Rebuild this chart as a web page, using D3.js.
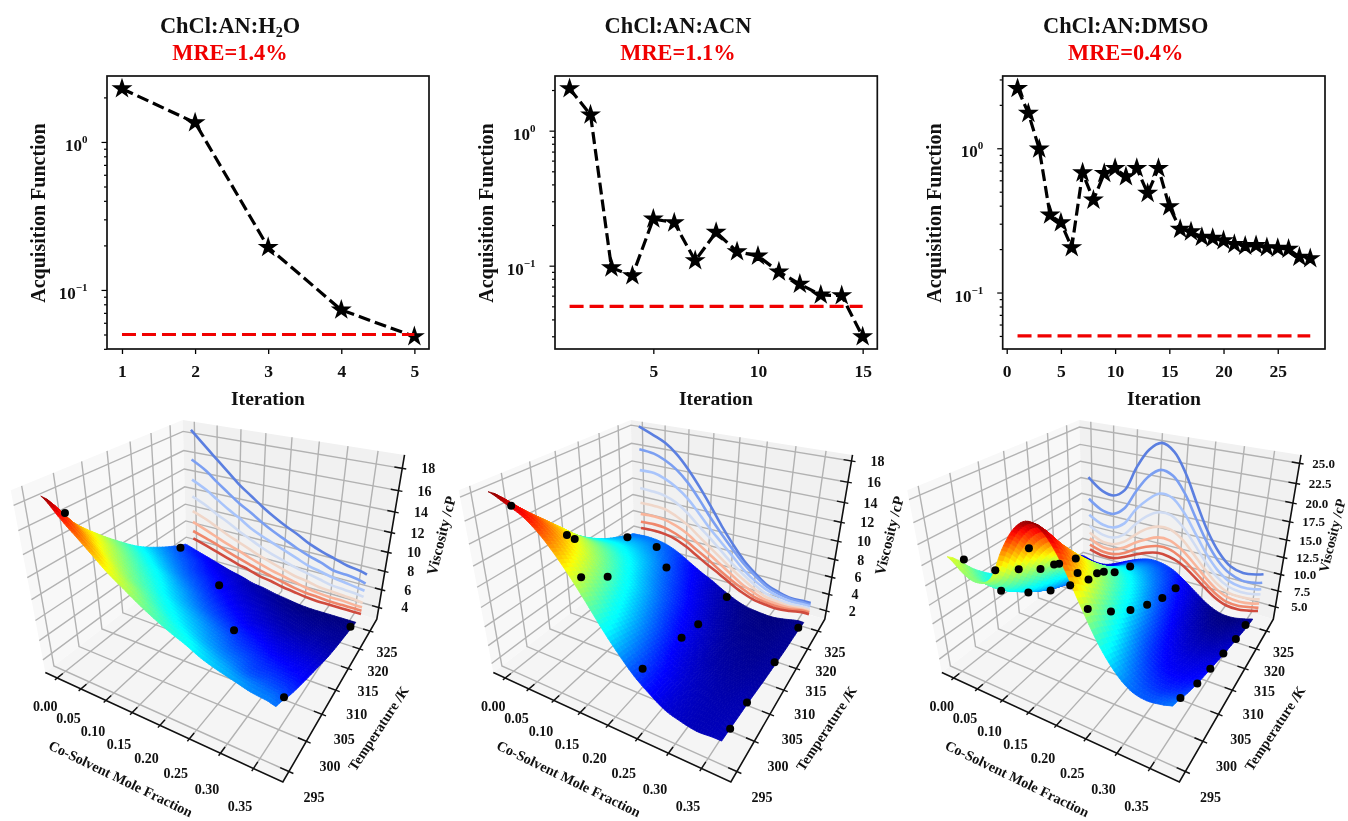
<!DOCTYPE html>
<html>
<head>
<meta charset="utf-8">
<style>
body { margin: 0; background: #fff; }
svg { display: block; filter: blur(0.45px); }
text { font-family: 'Liberation Serif', serif; font-weight: bold; fill: #111; }
</style>
</head>
<body>
<script src="https://cdnjs.cloudflare.com/ajax/libs/d3/7.8.5/d3.min.js"></script>
<script>
//acquisition function per iteration
var acq1 = [2.29, 1.35, 0.194, 0.0733, 0.0484];
var acq2 = [2.05, 1.31, 0.0966, 0.0843, 0.222, 0.208, 0.109, 0.177, 0.127, 0.118, 0.090, 0.073, 0.0607, 0.060, 0.0298];
var acq3 = [2.6, 1.75, 0.99, 0.345, 0.305, 0.205, 0.677, 0.438, 0.67, 0.726, 0.636, 0.726, 0.488, 0.726, 0.394, 0.275, 0.264, 0.242, 0.238, 0.229, 0.216, 0.21, 0.212, 0.205, 0.203, 0.2, 0.176, 0.172];
var threshold = 0.05;
var xticks1 = [1, 2, 3, 4, 5];
var xticks2 = [5, 10, 15];
var xticks3 = [0, 5, 10, 15, 20, 25];
var titles = ['ChCl:AN:H', 'ChCl:AN:ACN', 'ChCl:AN:DMSO'];
var mre = ['MRE=1.4%', 'MRE=1.1%', 'MRE=0.4%'];

//3d axes
var fractionTicks = [0, 0.05, 0.10, 0.15, 0.20, 0.25, 0.30, 0.35];
var tempTicks = [295, 300, 305, 310, 315, 320, 325];
var viscTicks1 = [4, 6, 8, 10, 12, 14, 16, 18];
var viscTicks2 = [2, 4, 6, 8, 10, 12, 14, 16, 18];
var viscTicks3 = [5, 7.5, 10, 12.5, 15, 17.5, 20, 22.5, 25];

//mole fraction grid of the viscosity rows, and the temperature of each row
var fractions = [-0.008, 0.025, 0.05, 0.075, 0.1, 0.125, 0.15, 0.175, 0.2, 0.225, 0.25, 0.275, 0.3, 0.325, 0.35, 0.362];
var temps = [296.2, 300.46, 304.71, 308.97, 313.23, 317.49, 321.74, 326];

var visc1 = [
    [18.3, 16.8, 15.7, 14.6, 13.5, 12.6, 11.7, 10.9, 10.2, 9.6, 8.9, 8.4, 8.0, 7.6, 7.4, 7.2],
    [15.2, 14.3, 13.3, 12.4, 11.5, 10.8, 10.0, 9.3, 8.7, 8.1, 7.6, 7.2, 6.7, 6.6, 6.4, 6.2],
    [13.0, 12.2, 11.4, 10.6, 9.9, 9.1, 8.5, 8.0, 7.5, 7.0, 6.5, 6.2, 5.9, 5.7, 5.5, 5.4],
    [11.1, 10.4, 9.7, 9.1, 8.4, 7.8, 7.2, 6.7, 6.3, 5.9, 5.6, 5.3, 5.0, 4.9, 4.8, 4.7],
    [9.4, 8.8, 8.2, 7.6, 7.1, 6.6, 6.1, 5.7, 5.3, 4.9, 4.7, 4.4, 4.3, 4.2, 4.1, 4.0],
    [8.1, 7.5, 7.0, 6.5, 6.1, 5.6, 5.2, 4.8, 4.5, 4.2, 3.9, 3.7, 3.6, 3.6, 3.5, 3.5],
    [7.0, 6.5, 6.1, 5.6, 5.2, 4.8, 4.4, 4.1, 3.8, 3.5, 3.3, 3.2, 3.1, 3.1, 3.1, 3.1],
    [6.1, 5.6, 5.2, 4.8, 4.4, 4.1, 3.7, 3.5, 3.2, 3.0, 2.8, 2.7, 2.7, 2.7, 2.7, 2.7]
];
var visc2 = [
    [18.0, 17.3, 16.7, 15.7, 14.3, 12.6, 10.7, 8.7, 6.9, 5.3, 4.1, 3.1, 2.6, 2.3, 2.4, 2.4],
    [15.5, 15.3, 14.8, 14.0, 12.8, 11.2, 9.4, 7.8, 6.3, 4.9, 3.8, 2.9, 2.4, 2.2, 2.2, 2.2],
    [13.1, 13.1, 12.7, 12.0, 11.0, 9.6, 8.1, 6.8, 5.5, 4.2, 3.2, 2.5, 2.1, 1.9, 2.0, 2.0],
    [11.0, 10.9, 10.7, 10.2, 9.3, 8.1, 7.0, 5.8, 4.6, 3.6, 2.7, 2.0, 1.7, 1.6, 1.7, 1.7],
    [9.2, 9.2, 9.1, 8.6, 7.9, 6.9, 5.9, 4.9, 3.9, 3.0, 2.2, 1.6, 1.4, 1.3, 1.5, 1.5],
    [7.8, 7.9, 7.8, 7.4, 6.8, 5.9, 5.0, 4.1, 3.2, 2.3, 1.7, 1.2, 1.1, 1.1, 1.3, 1.3],
    [6.8, 6.9, 6.8, 6.4, 5.8, 5.0, 4.2, 3.3, 2.5, 1.8, 1.2, 0.9, 0.8, 0.9, 1.2, 1.2],
    [6.0, 6.1, 6.0, 5.7, 5.1, 4.3, 3.5, 2.8, 2.0, 1.3, 0.8, 0.6, 0.5, 0.7, 1.0, 1.0]
];
var visc3 = [
    [17.8, 16.1, 15.8, 17.0, 20.7, 23.5, 24.7, 23.8, 21.1, 17.3, 13.7, 11.0, 9.3, 8.8, 9.1, 9.4],
    [14.4, 13.0, 12.9, 14.2, 17.2, 19.7, 21.0, 20.5, 18.4, 15.2, 12.1, 9.7, 8.2, 7.6, 7.8, 8.1],
    [11.8, 10.7, 10.7, 11.8, 14.4, 16.3, 17.6, 17.4, 15.7, 13.1, 10.4, 8.3, 7.0, 6.6, 6.8, 7.1],
    [10.0, 9.0, 9.0, 10.0, 12.1, 13.8, 14.8, 14.8, 13.5, 11.4, 9.1, 7.2, 6.1, 5.8, 6.0, 6.3],
    [8.8, 7.8, 7.9, 8.8, 10.4, 11.8, 12.6, 12.6, 11.6, 9.8, 7.9, 6.2, 5.2, 5.0, 5.2, 5.5],
    [7.8, 6.9, 7.0, 7.8, 9.1, 10.1, 10.9, 10.9, 10.0, 8.5, 6.8, 5.3, 4.4, 4.2, 4.5, 4.8],
    [6.7, 6.1, 6.2, 6.9, 8.0, 8.9, 9.5, 9.5, 8.7, 7.4, 5.9, 4.5, 3.6, 3.5, 3.9, 4.1],
    [5.9, 5.4, 5.5, 6.2, 7.1, 7.9, 8.4, 8.3, 7.7, 6.5, 5.1, 3.8, 3.0, 2.9, 3.3, 3.6]
];

//measured points: mole fraction, temperature, viscosity
var points1 = [[0, 298.9, 16.4], [0.005, 322.9, 6.7], [0.122, 318.9, 5.3], [0.22, 308.7, 5.8], [0.357, 299.4, 6.3], [0.36, 323.8, 3.0]];
var points2 = [[0.01, 298, 16.6], [0.038, 304.7, 12.5], [0.048, 305.2, 12.1], [0.122, 298.5, 11.7], [0.12, 303.9, 9.9], [0, 323.3, 6.4], [0.068, 323.3, 6.2], [0.117, 319.4, 5.7], [0.212, 325.1, 1.7], [0.22, 313.6, 3.0], [0.222, 308.3, 3.7], [0.225, 298.1, 5.1], [0.36, 323.8, 1.2], [0.36, 313.6, 1.6], [0.36, 303.9, 2.0], [0.362, 298.5, 2.3]];
var points3 = [[0, 298.2, 16.8], [0.088, 295.9, 18.3], [0.098, 299, 17.3], [0.125, 298.5, 20.5], [0.108, 302.1, 16.2], [0.122, 303.4, 16.5], [0.127, 303.9, 16.5], [0.165, 303, 18.3], [0.033, 319.4, 6.5], [0.2, 301.2, 17.3], [0.095, 317.1, 8.8], [0.18, 307.4, 15.1], [0.175, 310.9, 13.4], [0.152, 318.9, 10.3], [0.065, 298.5, 14.1], [0.04, 306.1, 9.7], [0.055, 309.6, 8.7], [0.21, 296.3, 19.1], [0.225, 297.7, 16.1], [0.227, 302.5, 13.4], [0.23, 307, 11.4], [0.23, 311.8, 9.7], [0.23, 316.7, 8.3], [0.227, 322, 7.2], [0.357, 299.4, 8.0], [0.36, 303.9, 7.0], [0.36, 308.3, 6.2], [0.36, 313.2, 5.4], [0.36, 318.5, 4.5], [0.357, 323.8, 3.7]];

var lineColors = ['#5b7fe0', '#7b9ff2', '#a8c4fb', '#d0dcf3', '#f0d6c8', '#f9b49a', '#f0876b', '#d04b3e'];
var jetStops = [0, 0.11, 0.125, 0.35, 0.375, 0.64, 0.66, 0.89, 0.91, 1];
var jetColors = ['#00007f', '#0000f1', '#0000ff', '#00ffff', '#0cfff4', '#f9ff07', '#ffee00', '#ff0b00', '#f10000', '#7f0000'];

//panel layouts
var tops = [
    { y: acq1, xticks: xticks1, left: 107, right: 429, xdom: [0.795, 5.2], ydom: [0.0399, 2.79], tx: 230, lx: 268, ylx: 45 },
    { y: acq2, xticks: xticks2, left: 555, right: 877.3, xdom: [0.303, 15.7], ydom: [0.02415, 2.54], tx: 678, lx: 716, ylx: 493 },
    { y: acq3, xticks: xticks3, left: 1002.7, right: 1325, xdom: [-0.369, 29.36], ydom: [0.0406, 3.17], tx: 1125.7, lx: 1164, ylx: 941 }
];
var bottoms = [
    { dx: 0, visc: visc1, points: points1, ticks: viscTicks1, zdom: [2.64, 19.16], zoff: 26, zfont: 14, labelx: 441, labelsize: 15 },
    { dx: 448, visc: visc2, points: points2, ticks: viscTicks2, zdom: [0.96, 18.55], zoff: 26, zfont: 14, labelx: 441, labelsize: 15 },
    { dx: 896.5, visc: visc3, points: points3, ticks: viscTicks3, zdom: [3, 26], zoff: 24, zfont: 13, labelx: 435.5, labelsize: 14 }
];

var svg = d3.select('body').append('svg')
    .attr('width', 1348)
    .attr('height', 821);

//-------- iteration charts --------
tops.forEach(function (p, i) {
    var g = svg.append('g');
    var x = d3.scaleLinear().domain(p.xdom).range([p.left, p.right]);
    var y = d3.scaleLog().domain(p.ydom).range([349, 76]);
    var iters = d3.range(1, p.y.length + 1);

    //titles
    var title = g.append('text')
        .attr('x', p.tx).attr('y', 33)
        .attr('text-anchor', 'middle')
        .attr('font-size', 22.4)
        .text(titles[i]);
    if (i === 0) {
        title.append('tspan').attr('font-size', 14).attr('dy', 4).text('2');
        title.append('tspan').attr('dy', -4).text('O');
    }
    g.append('text')
        .attr('x', p.tx).attr('y', 60)
        .attr('text-anchor', 'middle')
        .attr('font-size', 22.4)
        .style('fill', '#f00000')
        .text(mre[i]);

    //axes
    var xaxis = d3.axisBottom(x).tickValues(p.xticks).tickSize(5).tickPadding(11).tickSizeOuter(0).tickFormat(d3.format('d'));
    var yaxis = d3.axisLeft(y).tickValues(y.ticks()).tickSize(5.5).tickPadding(14).tickSizeOuter(0).tickFormat('');
    var gx = g.append('g').attr('transform', 'translate(0,349)').call(xaxis);
    var gy = g.append('g').attr('transform', 'translate(' + p.left + ',0)').call(yaxis);
    gx.selectAll('text').attr('font-size', 17.5);
    gx.attr('font-family', null);
    gy.attr('font-family', null);
    gx.selectAll('line').attr('stroke-width', 1.3);
    gy.selectAll('line').attr('stroke-width', 1.2);
    gy.selectAll('.tick').each(function (d) {
        var e = Math.log10(d);
        var major = Math.abs(e - Math.round(e)) < 1e-6;
        var t = d3.select(this);
        if (!major) { t.select('line').attr('x2', -3); return; }
        var lab = t.select('text').attr('font-size', 17).attr('dy', '0.5em');
        lab.text('10');
        lab.append('tspan').attr('font-size', 11).attr('dy', -8).text(Math.round(e) === 0 ? '0' : '\u22121');
    });
    gx.select('.domain').remove();
    gy.select('.domain').remove();

    g.append('rect')
        .attr('x', p.left).attr('y', 76)
        .attr('width', p.right - p.left).attr('height', 273)
        .attr('fill', 'none').attr('stroke', '#111').attr('stroke-width', 1.7);

    //axis titles
    g.append('text')
        .attr('x', p.lx).attr('y', 405)
        .attr('text-anchor', 'middle').attr('font-size', 19.6)
        .text('Iteration');
    g.append('text')
        .attr('transform', 'translate(' + p.ylx + ',213) rotate(-90)')
        .attr('text-anchor', 'middle').attr('font-size', 20)
        .text('Acquisition Function');

    //series
    var line = d3.line().x(function (d) { return x(d[0]); }).y(function (d) { return y(d[1]); });
    g.append('path')
        .attr('d', line(iters.map(function (n, k) { return [n, p.y[k]]; })))
        .attr('fill', 'none').attr('stroke', '#000').attr('stroke-width', 3.2)
        .attr('stroke-dasharray', '12,5');
    g.selectAll('.star')
        .data(iters)
        .enter().append('path')
        .attr('class', 'star')
        .attr('d', d3.symbol(d3.symbolStar, 68))
        .attr('transform', function (n, k) { return 'translate(' + x(n) + ',' + y(p.y[k]) + ')'; })
        .attr('fill', '#000').attr('stroke', '#000').attr('stroke-width', 2).attr('stroke-linejoin', 'miter');
    g.append('path')
        .attr('d', line([[1, threshold], [p.y.length, threshold]]))
        .attr('fill', 'none').attr('stroke', '#f00000').attr('stroke-width', 3.2)
        .attr('stroke-dasharray', '14,6');
});

//-------- surface charts --------
//box corners on the page, used to fit one camera for all three boxes
var boxCorners = [[0, 0, 0, 45, 671.7], [1, 0, 0, 283.3, 782.3], [1, 1, 0, 376.7, 619], [0, 1, 0, 187, 564], [0, 0, 1, 10.7, 491], [0, 1, 1, 183, 419.5], [1, 1, 1, 404.3, 455]];

function solve(A, b) {
    var n = b.length, M = A.map(function (r, i) { return r.concat(b[i]); });
    for (var i = 0; i < n; i++) {
        var m = i;
        for (var k = i + 1; k < n; k++) if (Math.abs(M[k][i]) > Math.abs(M[m][i])) m = k;
        var t = M[i]; M[i] = M[m]; M[m] = t;
        for (k = i + 1; k < n; k++) {
            var f = M[k][i] / M[i][i];
            for (var j = i; j <= n; j++) M[k][j] -= f * M[i][j];
        }
    }
    var x = [];
    for (i = n - 1; i >= 0; i--) {
        var s = M[i][n];
        for (j = i + 1; j < n; j++) s -= M[i][j] * x[j];
        x[i] = s / M[i][i];
    }
    return x;
}

function fitCamera(c) {
    var R = [], B = [];
    c.forEach(function (q) {
        var u = q[0], v = q[1], w = q[2], X = q[3], Y = q[4];
        R.push([u, v, w, 1, 0, 0, 0, 0, -X * u, -X * v, -X * w]); B.push(X);
        R.push([0, 0, 0, 0, u, v, w, 1, -Y * u, -Y * v, -Y * w]); B.push(Y);
    });
    var A = [], b = [];
    for (var i = 0; i < 11; i++) {
        A.push([]);
        b.push(d3.sum(R, function (r, k) { return r[i] * B[k]; }));
        for (var j = 0; j < 11; j++) A[i].push(d3.sum(R, function (r) { return r[i] * r[j]; }));
    }
    return solve(A, b).concat(1);
}
var P = fitCamera(boxCorners);

function camera(u, v, w) {
    var d = P[8] * u + P[9] * v + P[10] * w + P[11];
    return [(P[0] * u + P[1] * v + P[2] * w + P[3]) / d, (P[4] * u + P[5] * v + P[6] * w + P[7]) / d];
}

//spline through the rows so the surface comes out smooth
function spline(a, t) {
    var n = a.length, i = Math.min(n - 2, Math.max(0, Math.floor(t))), f = t - i;
    var p0 = a[Math.max(0, i - 1)], p1 = a[i], p2 = a[i + 1], p3 = a[Math.min(n - 1, i + 2)];
    return 0.5 * (2 * p1 + (p2 - p0) * f + (2 * p0 - 5 * p1 + 4 * p2 - p3) * f * f + (3 * p1 - p0 - 3 * p2 + p3) * f * f * f);
}

var xs3 = d3.scaleLinear().domain([-0.026, 0.392]).range([0, 1]);
var ts3 = d3.scaleLinear().domain([293.4, 328.6]).range([0, 1]);
var path3 = d3.line();
var pathSmooth = d3.line().curve(d3.curveCatmullRom);
var xlabShift = d3.scaleLinear().domain([0, 0.35]).range([12, 5]);
var tlabShiftX = d3.scaleLinear().domain([295, 325]).range([25, 17]);
var tlabShiftY = d3.scaleLinear().domain([295, 325]).range([26, 21]);

bottoms.forEach(function (p) {
    var g = svg.append('g').attr('transform', 'translate(' + p.dx + ',0)');
    var zs = d3.scaleLinear().domain(p.zdom).range([0, 1]);
    function project(x, t, z) { return camera(xs3(x), ts3(t), zs(z)); }
    var all = d3.merge(p.visc);
    var jetNorm = d3.scalePow().exponent(1.35).domain([d3.min(all), d3.max(all)]).range([0, 1]);
    var jetMap = d3.scaleLinear().domain(jetStops).range(jetColors);
    function jet(z) { return jetMap(jetNorm(z)); }

    //panes
    var panes = [
        { c: [[0, 0, 0], [0, 1, 0], [0, 1, 1], [0, 0, 1]], fill: '#f8f8f8' },
        { c: [[0, 1, 0], [1, 1, 0], [1, 1, 1], [0, 1, 1]], fill: '#f1f1f1' },
        { c: [[0, 0, 0], [1, 0, 0], [1, 1, 0], [0, 1, 0]], fill: '#f5f5f5' }
    ];
    g.selectAll('.pane')
        .data(panes)
        .enter().append('path')
        .attr('class', 'pane')
        .attr('d', function (d) { return path3(d.c.map(function (q) { return camera(q[0], q[1], q[2]); })) + 'Z'; })
        .attr('fill', function (d) { return d.fill; });

    //gridlines
    var grid = [];
    fractionTicks.forEach(function (v) { var u = xs3(v); grid.push([[u, 0, 0], [u, 1, 0], [u, 1, 1]]); });
    tempTicks.forEach(function (v) { var t = ts3(v); grid.push([[1, t, 0], [0, t, 0], [0, t, 1]]); });
    p.ticks.forEach(function (v) { var w = zs(v); grid.push([[0, 0, w], [0, 1, w], [1, 1, w]]); });
    g.selectAll('.grid')
        .data(grid)
        .enter().append('path')
        .attr('class', 'grid')
        .attr('d', function (d) { return path3(d.map(function (q) { return camera(q[0], q[1], q[2]); })); })
        .attr('fill', 'none').attr('stroke', '#b2b2b2').attr('stroke-width', 1.4);

    //temperature rows projected on the back wall
    g.selectAll('.row')
        .data(p.visc)
        .enter().append('path')
        .attr('class', 'row')
        .attr('d', function (row) {
            return pathSmooth(row.map(function (z, k) { return camera(xs3(fractions[k]), 1, zs(z)); }));
        })
        .attr('fill', 'none').attr('stroke-width', 2.6)
        .attr('stroke', function (d, i) { return lineColors[i]; });

    //surface, far cells first
    var nx = 90, nt = 36, cells = [];
    var fracAt = d3.scaleLinear().domain(d3.range(fractions.length)).range(fractions);
    var tempAt = d3.scaleLinear().domain(d3.range(temps.length)).range(temps);
    var mesh = d3.range(nt + 1).map(function (j) {
        var tj = j / nt * (temps.length - 1);
        return d3.range(nx + 1).map(function (i) {
            var xi = i / nx * (fractions.length - 1);
            var col = p.visc.map(function (row) { return spline(row, xi); });
            return { x: fracAt(xi), t: tempAt(tj), z: spline(col, tj) };
        });
    });
    for (var j = nt - 1; j >= 0; j--) {
        for (var i = 0; i < nx; i++) {
            cells.push([mesh[j][i], mesh[j][i + 1], mesh[j + 1][i + 1], mesh[j + 1][i]]);
        }
    }
    g.selectAll('.cell')
        .data(cells)
        .enter().append('path')
        .attr('class', 'cell')
        .attr('d', function (c) { return path3(c.map(function (q) { return project(q.x, q.t, q.z); })) + 'Z'; })
        .attr('fill', function (c) { return jet(d3.mean(c, function (q) { return q.z; })); })
        .attr('stroke', function (c) { return jet(d3.mean(c, function (q) { return q.z; })); })
        .attr('stroke-width', 0.8);

    //measured points
    g.selectAll('.pt')
        .data(p.points)
        .enter().append('circle')
        .attr('class', 'pt')
        .attr('cx', function (d) { return project(d[0], d[1], d[2])[0]; })
        .attr('cy', function (d) { return project(d[0], d[1], d[2])[1]; })
        .attr('r', 4)
        .attr('fill', '#000');

    //axis lines
    g.append('path')
        .attr('d', path3([camera(0, 0, 0), camera(1, 0, 0), camera(1, 1, 0), camera(1, 1, 1)]))
        .attr('fill', 'none').attr('stroke', '#111').attr('stroke-width', 1.6);

    //ticks and tick labels
    function tick(a, b) {
        g.append('path').attr('d', path3([camera(a[0], a[1], a[2]), camera(b[0], b[1], b[2])]))
            .attr('stroke', '#111').attr('stroke-width', 1.4);
    }
    function label(pos, dx, dy, s, size) {
        g.append('text').attr('x', pos[0] + dx).attr('y', pos[1] + dy)
            .attr('text-anchor', 'middle').attr('dy', '0.35em')
            .attr('font-size', size).text(s);
    }
    fractionTicks.forEach(function (v) {
        var u = xs3(v);
        tick([u, -0.012, 0], [u, 0.03, 0]);
        label(camera(u, -0.12, 0), xlabShift(v), 9.5, d3.format('.2f')(v), 14);
    });
    tempTicks.forEach(function (v) {
        var t = ts3(v);
        tick([0.97, t, 0], [1.015, t, 0]);
        label(camera(1, t, 0), tlabShiftX(v), tlabShiftY(v), String(v), 14);
    });
    p.ticks.forEach(function (v) {
        var w = zs(v);
        tick([0.97, 1, w], [1.015, 1, w]);
        label(camera(1, 1, w), p.zoff, 0, p.ticks === viscTicks3 ? d3.format('.1f')(v) : String(v), p.zfont);
    });

    //axis titles
    g.append('text')
        .attr('transform', 'translate(120.7,778.5) rotate(25.8)')
        .attr('text-anchor', 'middle').attr('dy', '0.35em').attr('font-size', 14.3)
        .text('Co-Solvent Mole Fraction');
    g.append('text')
        .attr('transform', 'translate(378.3,728.3) rotate(-56.6)')
        .attr('text-anchor', 'middle').attr('dy', '0.35em').attr('font-size', 14.3)
        .text('Temperature /K');
    g.append('text')
        .attr('transform', 'translate(' + p.labelx + ',535.5) rotate(-76)')
        .attr('text-anchor', 'middle').attr('dy', '0.35em').attr('font-size', p.labelsize)
        .text('Viscosity /cP');
});
</script>
</body>
</html>
